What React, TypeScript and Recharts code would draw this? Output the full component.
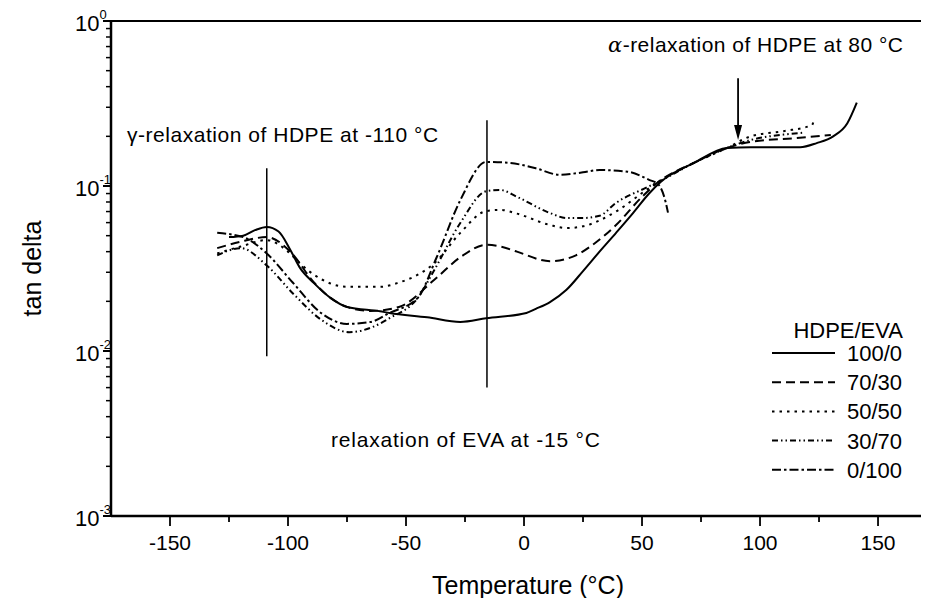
import React from "react";
import {
  ComposedChart,
  Line,
  XAxis,
  YAxis,
  ReferenceLine,
  ReferenceDot,
  Legend,
} from "recharts";

const FONT = "'Liberation Sans', Arial, Helvetica, sans-serif";

// HDPE/EVA 100/0
const t100 = [-125, -119, -114, -109, -104, -99, -95, -89, -82, -75, -61, -57, -41, -27, -16, 1, 5, 11, 18, 25, 32, 39, 46, 53, 58, 72, 86, 96, 117, 124, 131, 137, 141];
const v100 = [0.049, 0.05, 0.054, 0.0565, 0.053, 0.041, 0.032, 0.0258, 0.021, 0.0185, 0.0174, 0.017, 0.016, 0.015, 0.0158, 0.017, 0.018, 0.0198, 0.0235, 0.0305, 0.04, 0.052, 0.068, 0.09, 0.106, 0.138, 0.17, 0.172, 0.172, 0.182, 0.2, 0.24, 0.32];

// 70/30
const t7030 = [-130, -120, -109, -99, -89, -82, -75, -65, -53, -38, -27, -16, -10, -3, 11, 22, 30, 39, 50, 57, 72, 86, 96, 115, 130];
const v7030 = [0.042, 0.046, 0.049, 0.04, 0.026, 0.021, 0.0185, 0.0175, 0.0185, 0.027, 0.037, 0.044, 0.043, 0.04, 0.035, 0.038, 0.045, 0.058, 0.086, 0.106, 0.138, 0.17, 0.185, 0.195, 0.204];

// 50/50
const t5050 = [-130, -120, -109, -100, -95, -89, -75, -61, -53, -45, -38, -27, -16, -10, -3, 11, 18, 25, 39, 52, 57, 72, 86, 96, 110, 122, 123];
const v5050 = [0.039, 0.043, 0.047, 0.04, 0.034, 0.029, 0.0245, 0.0245, 0.026, 0.029, 0.034, 0.052, 0.0705, 0.0716, 0.068, 0.058, 0.0556, 0.057, 0.07, 0.095, 0.106, 0.138, 0.17, 0.2, 0.215, 0.234, 0.258];

// 30/70
const t3070 = [-130, -120, -109, -98, -86, -74, -64, -57, -45, -38, -27, -16, -10, -3, 11, 18, 25, 32, 39, 52, 57, 72, 86, 96, 110, 118];
const v3070 = [0.038, 0.042, 0.033, 0.0224, 0.0155, 0.013, 0.014, 0.0158, 0.021, 0.031, 0.0597, 0.093, 0.0946, 0.086, 0.0686, 0.064, 0.064, 0.066, 0.079, 0.098, 0.106, 0.138, 0.17, 0.19, 0.205, 0.21];

// 0/100
const t0100 = [-130, -119, -109, -98, -86, -75, -65, -57, -45, -37, -27, -16, -6, 5, 15, 25, 32, 44, 53, 57, 60, 61];
const v0100 = [0.052, 0.049, 0.039, 0.026, 0.017, 0.0146, 0.015, 0.017, 0.021, 0.037, 0.082, 0.14, 0.138, 0.128, 0.117, 0.121, 0.125, 0.122, 0.109, 0.102, 0.08, 0.069];

const xTicks = [-150, -125, -100, -75, -50, -25, 0, 25, 50, 75, 100, 125, 150];
const yTicks = [
  0.001, 0.002, 0.003, 0.004, 0.005, 0.006, 0.007, 0.008, 0.009,
  0.01, 0.02, 0.03, 0.04, 0.05, 0.06, 0.07, 0.08, 0.09,
  0.1, 0.2, 0.3, 0.4, 0.5, 0.6, 0.7, 0.8, 0.9, 1,
];

const toPoints = (t: number[], v: number[]) => t.map((x, i) => ({ t: x, v: v[i] }));

const series = [
  { name: "100/0", data: toPoints(t100, v100), dash: undefined },
  { name: "70/30", data: toPoints(t7030, v7030), dash: "9 5" },
  { name: "50/50", data: toPoints(t5050, v5050), dash: "2.5 5" },
  { name: "30/70", data: toPoints(t3070, v3070), dash: "6 3 1.5 3 1.5 3" },
  { name: "0/100", data: toPoints(t0100, v0100), dash: "9 3 2.5 3" },
];

const XTick = (props: any) => {
  const { x, y, payload } = props;
  const major = payload.value % 50 === 0;
  return (
    <g>
      <line x1={x} x2={x} y1={y} y2={y + (major ? 10 : 6)} stroke="#000" strokeWidth={1.8} />
      {major && (
        <text x={x} y={y + 34} textAnchor="middle" fontSize={21} fontFamily={FONT} fill="#000">
          {payload.value}
        </text>
      )}
    </g>
  );
};

const YTick = (props: any) => {
  const { x, y, payload } = props;
  const exp = Math.round(Math.log10(payload.value));
  const major = Math.abs(payload.value - Math.pow(10, exp)) < 1e-9;
  return (
    <g>
      <line x1={x - (major ? 8 : 5)} x2={x} y1={y} y2={y} stroke="#000" strokeWidth={major ? 2 : 1.5} />
      {major && (
        <text x={x - 36} y={y + 10} fontSize={22} fontFamily={FONT} fill="#000">
          10
          <tspan dy={-12} fontSize={13}>
            {exp}
          </tspan>
        </text>
      )}
    </g>
  );
};

const annText = (label: React.ReactNode, width: number) => (p: any) => (
  <text
    x={p.cx}
    y={p.cy}
    dy="0.35em"
    fontSize={21}
    fontFamily={FONT}
    fill="#000"
    textLength={width}
    lengthAdjust="spacing"
  >
    {label}
  </text>
);

const arrowShape = (p: any) => (
  <g>
    <line x1={p.x1} y1={p.y1} x2={p.x2} y2={p.y2 - 12} stroke="#000" strokeWidth={1.8} />
    <polygon points={`${p.x2},${p.y2} ${p.x2 - 4},${p.y2 - 15} ${p.x2 + 4},${p.y2 - 15}`} fill="#000" />
  </g>
);

const renderLegend = () => (
  <svg width={160} height={180} style={{ display: "block" }}>
    <text x={131} y={30} textAnchor="end" fontSize={22} fontFamily={FONT} fill="#000">
      HDPE/EVA
    </text>
    {series.map((s, i) => {
      const cy = 45 + i * 29.2;
      return (
        <g key={s.name}>
          <line x1={0} x2={63} y1={cy} y2={cy} stroke="#000" strokeWidth={2} strokeDasharray={s.dash} />
          <text x={75} y={cy + 8} fontSize={22} fontFamily={FONT} fill="#000">
            {s.name}
          </text>
        </g>
      );
    })}
  </svg>
);

export default function App() {
  return (
    <div style={{ width: 921, height: 590 }}>
      <ComposedChart width={921} height={590} margin={{ top: 13, right: 0, bottom: 0, left: 0 }}>
        <XAxis
          type="number"
          dataKey="t"
          domain={[-175, 171.6]}
          allowDataOverflow
          ticks={xTicks}
          interval={0}
          tick={<XTick />}
          tickLine={false}
          tickSize={0}
          tickMargin={0}
          axisLine={{ stroke: "#000", strokeWidth: 2.5 }}
          height={82}
          label={{
            value: "Temperature (°C)",
            position: "insideBottom",
            offset: 4,
            dx: 8,
            style: { fontSize: 25, fontFamily: FONT, fill: "#000" },
          }}
        />
        <YAxis
          scale="log"
          domain={[0.001, 1]}
          allowDataOverflow
          ticks={yTicks}
          interval={0}
          width={103}
          tick={<YTick />}
          tickLine={false}
          tickSize={0}
          tickMargin={0}
          axisLine={{ stroke: "#000", strokeWidth: 2.5 }}
          label={{
            value: "tan delta",
            angle: -90,
            position: "center",
            dx: -27,
            style: { fontSize: 25, fontFamily: FONT, fill: "#000" },
          }}
        />
        <ReferenceLine y={1} stroke="#000" strokeWidth={2} />
        <ReferenceLine segment={[{ x: -109, y: 0.128 }, { x: -109, y: 0.0093 }]} stroke="#000" strokeWidth={1.5} />
        <ReferenceLine segment={[{ x: -15.7, y: 0.25 }, { x: -15.7, y: 0.006 }]} stroke="#000" strokeWidth={1.5} />
        <ReferenceLine segment={[{ x: 90.7, y: 0.45 }, { x: 90.7, y: 0.19 }]} shape={arrowShape} />
        <ReferenceDot x={-168.2} y={0.204} r={0} shape={annText("γ-relaxation of HDPE at -110 °C", 311)} />
        <ReferenceDot
          x={35.6}
          y={0.716}
          r={0}
          shape={annText(
            <>
              <tspan fontStyle="italic" fontFamily="'DejaVu Serif', serif">α</tspan>-relaxation of HDPE at 80 °C
            </>,
            295
          )}
        />
        <ReferenceDot x={-81.8} y={0.0029} r={0} shape={annText("relaxation of EVA at -15 °C", 269)} />
        {series.map((s) => (
          <Line
            key={s.name}
            data={s.data}
            dataKey="v"
            name={s.name}
            type="monotone"
            stroke="#000"
            strokeWidth={2}
            strokeDasharray={s.dash}
            dot={false}
            isAnimationActive={false}
          />
        ))}
        <Legend
          layout="horizontal"
          verticalAlign="middle"
          align="center"
          content={renderLegend}
          wrapperStyle={{ position: "absolute", left: 764, top: 300, width: 160 }}
        />
      </ComposedChart>
    </div>
  );
}
